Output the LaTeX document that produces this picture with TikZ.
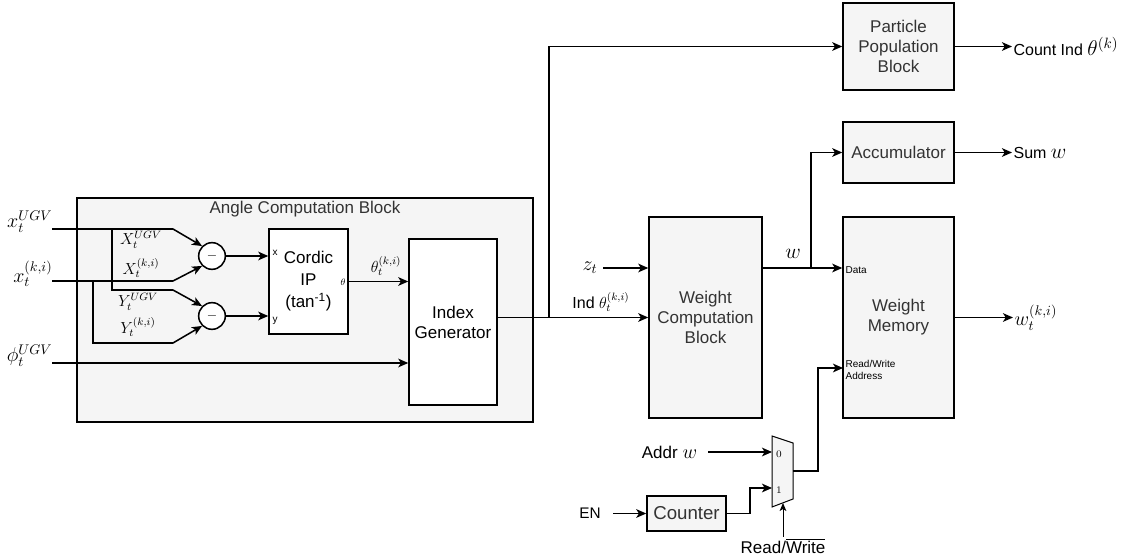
\RequirePackage{fix-cm}
\documentclass[tikz,border=0pt]{standalone}
\usepackage{amsmath}
\usepackage{fontspec}
\setmainfont{Liberation Sans}
\usepackage{xcolor}
\usetikzlibrary{arrows.meta, calc}
\definecolor{boxfill}{HTML}{F5F5F5}
\definecolor{boxtext}{HTML}{333333}

\begin{document}
\begin{tikzpicture}[x=0.75pt, y=-0.75pt,
  blk/.style={draw, line width=1.15pt, fill=boxfill, text=boxtext, align=center,
              inner sep=0pt, font=\fontsize{12.75}{15}\selectfont},
  wbox/.style={blk, fill=white, text=black},
  sub/.style={draw, line width=1.15pt, fill=white, circle, minimum size=20pt, inner sep=0pt},
  wire/.style={line width=1.15pt},
  arr/.style={wire, -{Stealth[length=7.5pt, width=6.5pt, inset=2pt]}},
  thinarr/.style={line width=0.75pt, -{Stealth[length=6pt, width=5pt, inset=1.5pt]}},
  lbl/.style={font=\fontsize{12.75}{15}\selectfont, inner sep=1pt},
  tiny/.style={font=\fontsize{7.5}{9}\selectfont, inner sep=1pt, align=left},
  mth/.style={font=\fontsize{15}{18}\selectfont, inner sep=1pt},
  smth/.style={font=\fontsize{12}{13}\selectfont, inner sep=0pt}]
  \useasboundingbox (0,0) rectangle (1132,559);

  % angle computation block
  \node[blk, minimum width=456*0.75pt, minimum height=224*0.75pt] (acb) at (305,310) {};
  \node[lbl, text=boxtext] (acbt) at (305,209) {Angle Computation Block};
  \node[wbox, minimum width=79*0.75pt, minimum height=105*0.75pt,
        font=\fontsize{12.75}{16.5}\selectfont] (cordic) at (308.5,281.5) {Cordic\\IP\\(tan\textsuperscript{-1})};
  \node[wbox, minimum width=88*0.75pt, minimum height=166*0.75pt] (idx) at (453,322) {Index\\Generator};
  \node[sub] (s1) at (212,256) {$-$};
  \node[sub] (s2) at (212,316) {$-$};
  \node[tiny] at (275,253) {x};
  \node[tiny] at (275,321) {y};
  \node[inner sep=0pt, font=\fontsize{7}{8}\selectfont] at (343,282) {$\theta$};

  % inputs
  \node[mth, anchor=east] (xu) at (54,222) {$x_t^{UGV}$};
  \node[mth, anchor=east] (xk) at (54,274) {$x_t^{(k,i)}$};
  \node[mth, anchor=east] (ph) at (54,356) {$\phi_t^{UGV}$};
  \coordinate (xu0) at (52,229);
  \coordinate (xk0) at (52,281);
  \coordinate (ph0) at (52,363);
  \coordinate (ju) at (112,229);
  \coordinate (jk) at (93,281);
  \node[smth] at (141,240) {$X_t^{UGV}$};
  \node[smth] at (141,268) {$X_t^{(k,i)}$};
  \node[smth] at (138,302) {$Y_t^{UGV}$};
  \node[smth] at (138,327) {$Y_t^{(k,i)}$};

  \draw[arr] (xu0) -- ++(121,0) -- (s1.135);
  \draw[arr] (xk0) -- ++(121,0) -- (s1.225);
  \draw[arr] (ju) |- ++(61,61) -- (s2.135);
  \draw[arr] (jk) |- ++(80,62) -- (s2.225);
  \foreach \s in {s1,s2}
    \draw[arr] (\s) -- (\s -| cordic.west);
  \draw[arr] (cordic) -- (cordic -| idx.west);
  \node[font=\fontsize{12}{14}\selectfont, inner sep=0pt] at (386,266) {$\theta_t^{(k,i)}$};
  \draw[arr] (ph0) -- (ph0 -| idx.west);

  % weight path
  \node[blk, minimum width=113*0.75pt, minimum height=201*0.75pt] (wcb) at (705.5,317.5) {Weight\\Computation\\Block};
  \node[blk, minimum width=111*0.75pt, minimum height=201*0.75pt] (wm) at (898.5,317.5) {Weight\\Memory};
  \node[blk, minimum width=111*0.75pt, minimum height=61*0.75pt] (acc) at (898.5,152.5) {Accumulator};
  \node[blk, minimum width=111*0.75pt, minimum height=87*0.75pt] (ppb) at (898.5,46.5) {Particle\\Population\\Block};

  \coordinate (jb) at (549,317.5);
  \draw[arr] (idx.east |- wcb) -- (wcb.west);
  \draw[arr] (jb) |- (ppb.west);
  \node[mth, anchor=east, inner xsep=4pt] (zt) at (603,268) {$z_t$};
  \draw[arr] (zt) -- (zt -| wcb.west);
  \node[lbl, font=\fontsize{12}{14}\selectfont] at (601,302) {Ind $\theta_t^{(k,i)}$};

  \coordinate (wd) at (763,268);
  \coordinate (jw) at (811,268);
  \draw[arr] (wd) -- (wd -| wm.west);
  \draw[arr] (jw) |- (acc.west);
  \node[mth, font=\fontsize{16}{18}\selectfont] at (793,254) {$w$};
  \node[tiny, anchor=west] at (844,270) {Data};
  \node[tiny, anchor=west] at (844,370) {Read/Write\\Address};

  % outputs
  \node[lbl, anchor=west, font=\fontsize{12}{14}\selectfont] (ct) at (1012,46.5)
       {Count Ind {\fontsize{16}{18}\selectfont$\theta^{(k)}$}};
  \node[lbl, anchor=west, font=\fontsize{12}{14}\selectfont] (sw) at (1012,152.5)
       {Sum {\fontsize{16}{18}\selectfont$w$}};
  \node[mth, anchor=west] (wo) at (1013,317.5) {$w_t^{(k,i)}$};
  \foreach \b/\o in {ppb/ct, acc/sw, wm/wo}
    \draw[arr] (\b) -- (\o);

  % address mux
  \draw[line width=0.75pt, fill=boxfill] (772,436) -- (793,443) -- (793,499) -- (772,507) -- cycle;
  \coordinate (m0) at (772,452);
  \coordinate (m1) at (772,488);
  \coordinate (mo) at (793,471);
  \coordinate (ms) at (783,503);
  \coordinate (wa) at (843,368);
  \node[inner sep=0pt, font=\fontsize{7.5}{9}\selectfont] at (779,454) {$0$};
  \node[inner sep=0pt, font=\fontsize{7.5}{9}\selectfont] at (779,490) {$1$};
  \node[blk, minimum width=79*0.75pt, minimum height=35*0.75pt,
        font=\fontsize{14}{16}\selectfont] (cnt) at (686.5,513.5) {Counter};
  \node[lbl, anchor=east, inner xsep=8pt] (addr) at (708,452) {Addr {\fontsize{15}{16}\selectfont$w$}};
  \node[lbl, anchor=east, inner xsep=9pt, font=\fontsize{11.5}{14}\selectfont] (en) at (613,513.5) {EN};
  \node[lbl, inner sep=1pt] (rw) at (783,546) {Read/$\overline{\text{Write}}$};

  \draw[arr] (addr) -- (m0);
  \draw[arr] (en) -- (cnt);
  \draw[arr] (cnt.east) -- ++(23,0) |- (m1);
  \draw[arr] (mo) -- ++(25,0) |- (wa);
  \draw[thinarr] (rw) -- (ms);
\end{tikzpicture}
\end{document}
